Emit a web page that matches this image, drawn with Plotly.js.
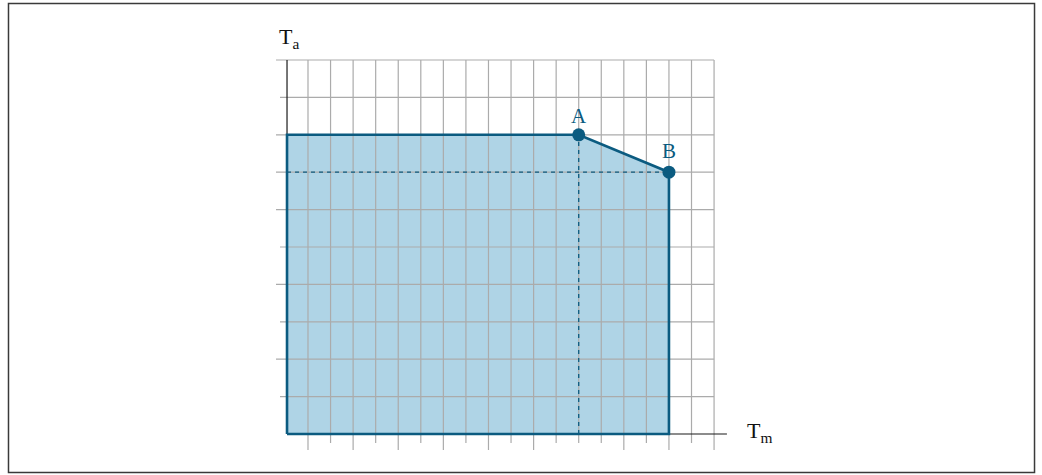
<!DOCTYPE html>
<html><head><meta charset="utf-8">
<script src="https://cdn.plot.ly/plotly-3.0.1.min.js"></script>
<style>html,body{margin:0;padding:0;background:#fff;}#chart{width:1042px;height:475px;}</style>
</head><body><div id="chart"></div>
<script>
// Grid positions (grid units)
const xGrid = [0,1,2,3,4,5,6,7,8,9,10,11,12,13,14,15,16,17,18];
const xTickLong = [1,0,1,0,1,0,1,0,1,0,1,0,0,0,1,0,1,0,1];
const yGrid = [1,2,3,4,5,6,7,8,9,10];
const yTickLong = [0,1,0,1,0,1,1,1,0,1];
// Axes
const yAxisX = -0.93;   // position of the Ta axis
const xAxisEnd = 18.57; // end of the Tm axis line
const yTop = 10;
// Envelope (permitted range)
const envX = [-0.93, -0.93, 12, 16, 16, -0.93];
const envY = [0, 8, 8, 7, 0, 0];
// Corner points
const ptLabels = ['A', 'B'];
const ptX = [12, 16];
const ptY = [8, 7];
// Axis labels
const xLabel = 'T<sub>m</sub>';
const yLabel = 'T<sub>a</sub>';

const teal = '#0b5b80';
const gridColor = '#ababab';

// grid + ticks trace
const gx = [], gy = [];
xGrid.forEach((v, i) => { gx.push(v, v, null); gy.push(yTop, xTickLong[i] ? -0.428 : -0.241, null); });
yGrid.forEach((v, i) => { gx.push(yTickLong[i] ? -1.418 : -1.241, xGrid[xGrid.length-1], null); gy.push(v, v, null); });

const traces = [
  {x: envX, y: envY, mode: 'lines', fill: 'toself', fillcolor: '#afd4e6', line: {width: 0}, hoverinfo: 'skip'},
  {x: gx, y: gy, mode: 'lines', line: {color: gridColor, width: 1.2}, hoverinfo: 'skip', connectgaps: false},
  {x: [yAxisX, yAxisX, null, yAxisX, xAxisEnd], y: [0, yTop, null, 0, 0], mode: 'lines', line: {color: '#1a1a1a', width: 1.2}, hoverinfo: 'skip'},
  {x: [yAxisX, ptX[1], null, ptX[0], ptX[0]], y: [ptY[1], ptY[1], null, 0, ptY[0]], mode: 'lines', line: {color: teal, width: 1.3, dash: '4px,4px'}, hoverinfo: 'skip'},
  {x: envX, y: envY, mode: 'lines', line: {color: teal, width: 2.6}, hoverinfo: 'skip'},
  {x: ptX, y: ptY, mode: 'markers', marker: {color: teal, size: 13}, hoverinfo: 'skip'}
];

const serif = 'Liberation Serif, DejaVu Serif, serif';
const annotations = ptLabels.map((t, i) => ({
  x: ptX[i], y: ptY[i], text: t, showarrow: false, yshift: i === 0 ? 19 : 21,
  font: {family: serif, size: 21, color: teal}
}));
annotations.push({x: -1.374, y: 10.59, text: yLabel, showarrow: false, xanchor: 'left', yanchor: 'middle', font: {family: serif, size: 22, color: '#111'}});
annotations.push({x: 19.37, y: 0, text: xLabel, showarrow: false, xanchor: 'left', yanchor: 'middle', yshift: 2, font: {family: serif, size: 22, color: '#111'}});

const layout = {
  width: 1042, height: 475,
  margin: {l: 250, r: 242, t: 20, b: 15},
  paper_bgcolor: '#fff', plot_bgcolor: '#fff',
  showlegend: false,
  xaxis: {range: [-2.571, 21.809], visible: false, fixedrange: true},
  yaxis: {range: [-0.695, 11.07], visible: false, fixedrange: true},
  annotations: annotations,
  shapes: [{type: 'rect', xref: 'paper', yref: 'paper', x0: -0.4391, x1: 1.4264, y0: -0.0284, y1: 1.0375, line: {color: '#3a3a3a', width: 1.5}}]
};

Plotly.newPlot('chart', traces, layout, {displayModeBar: false, staticPlot: true});
</script></body></html>
